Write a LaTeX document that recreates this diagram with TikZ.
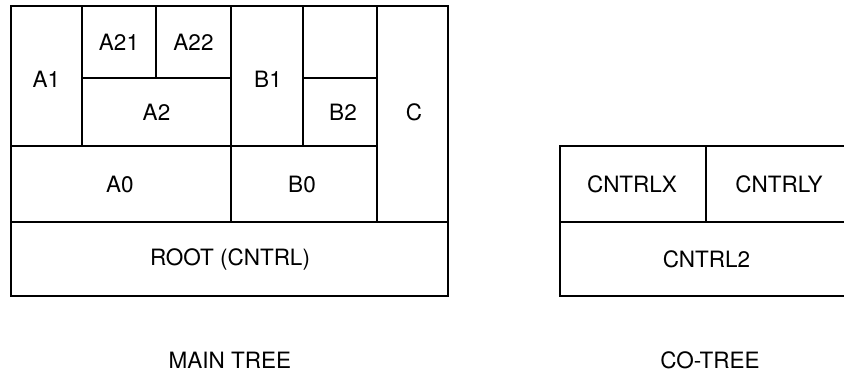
\documentclass[tikz,border=0pt]{standalone}
\usepackage{fontspec}
\setmainfont{TeX Gyre Heros}
\begin{document}
\begin{tikzpicture}[x=1pt,y=-1pt,
  boxline/.style={draw=black,line width=2pt,line join=miter},
  lbl/.style={inner sep=0pt,font=\fontsize{22.5}{26}\selectfont},
  captext/.style={inner sep=0pt,font=\fontsize{22.5}{26}\selectfont}]
\useasboundingbox (0,0) rectangle (844,375);
% main tree boxes
\draw[boxline] (11,6) rectangle (82,146);
\draw[boxline] (82,6) rectangle (156,78);
\draw[boxline] (156,6) rectangle (231,78);
\draw[boxline] (82,78) rectangle (231,146);
\draw[boxline] (231,6) rectangle (303,146);
\draw[boxline] (303,6) rectangle (377,78);
\draw[boxline] (303,78) rectangle (377,146);
\draw[boxline] (377,6) rectangle (448,222);
\draw[boxline] (11,146) rectangle (231,222);
\draw[boxline] (231,146) rectangle (377,222);
\draw[boxline] (11,222) rectangle (448,296);
\node[lbl] (a1) at (46.5,79) {A1};
\node[lbl] (a21) at (119,42) {A21};
\node[lbl] (a22) at (193.5,42) {A22};
\node[lbl] (a2) at (156.5,112) {A2};
\node[lbl] (b1) at (268,79) {B1};
\node[lbl] (b2) at (343,112) {B2};
\node[lbl] (c) at (414,112) {C};
\node[lbl] (a0) at (120,184) {A0};
\node[lbl] (b0) at (302,184) {B0};
\node[lbl] (root) at (230,259) {ROOT (CNTRL)};
% co-tree
\begin{scope}
\clip (0,0) rectangle (844,375);
\draw[boxline] (560,146) rectangle (706,222);
\draw[boxline] (706,146) rectangle (853,222);
\draw[boxline] (560,222) rectangle (853,296);
\end{scope}
\node[lbl] (cx) at (632,184) {CNTRLX};
\node[lbl] (cy) at (779,184) {CNTRLY};
\node[lbl] (c2) at (706.5,259) {CNTRL2};
% captions
\node[captext] (main) at (230,360) {MAIN TREE};
\node[captext] (co) at (710,360) {CO-TREE};
\end{tikzpicture}
\end{document}
